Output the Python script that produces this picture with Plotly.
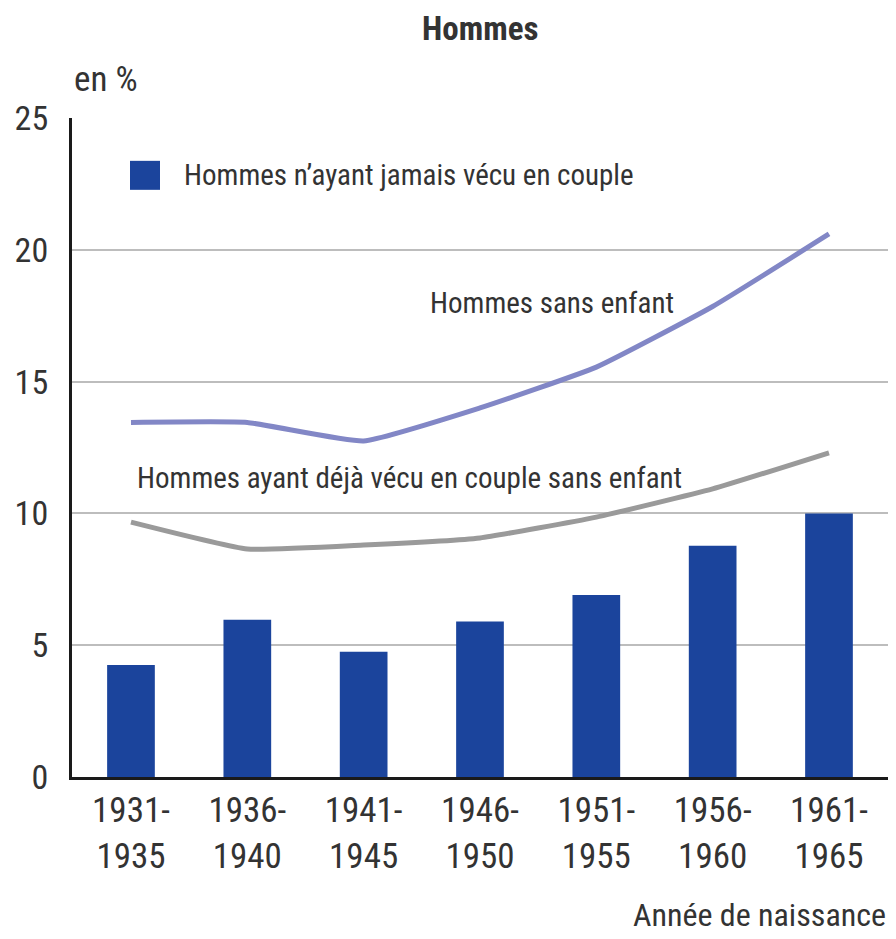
import plotly.graph_objects as go

# Cohorts (année de naissance)
cohorts = ["1931-1935", "1936-1940", "1941-1945", "1946-1950",
           "1951-1955", "1956-1960", "1961-1965"]
tick_labels = ["1931-<br>1935", "1936-<br>1940", "1941-<br>1945", "1946-<br>1950",
               "1951-<br>1955", "1956-<br>1960", "1961-<br>1965"]

# Values in %
jamais_couple = [4.25, 5.97, 4.75, 5.9, 6.9, 8.77, 10.0]
sans_enfant = [13.45, 13.45, 12.75, 14.0, 15.55, 17.85, 20.6]
deja_couple_sans_enfant = [9.67, 8.65, 8.8, 9.07, 9.86, 10.93, 12.3]

y_ticks = [0, 5, 10, 15, 20, 25]

FONT = "Liberation Sans Narrow, Arial Narrow, Roboto Condensed, DejaVu Sans Condensed, sans-serif"
TXT = "#333333"
BLUE = "#1b449c"
PURPLE = "#8287c6"
GREY = "#9a9a9a"

x_idx = list(range(len(cohorts)))

fig = go.Figure()

fig.add_trace(go.Bar(
    x=x_idx, y=jamais_couple,
    marker=dict(color=BLUE, line=dict(width=0)),
    width=0.41,
    name="Hommes n’ayant jamais vécu en couple",
    showlegend=False,
))

fig.add_trace(go.Scatter(
    x=x_idx, y=sans_enfant, mode="lines",
    line=dict(color=PURPLE, width=5, shape="spline", smoothing=0.4),
    showlegend=False,
))

fig.add_trace(go.Scatter(
    x=x_idx, y=deja_couple_sans_enfant, mode="lines",
    line=dict(color=GREY, width=5, shape="spline", smoothing=0.4),
    showlegend=False,
))

# legend swatch + text
fig.add_shape(type="rect", xref="paper", yref="paper",
              x0=0.0704, x1=0.1068, y0=0.891, y1=0.935,
              fillcolor=BLUE, line=dict(width=0))

annotations = [
    dict(text="Hommes n’ayant jamais vécu en couple", x=0.1335, y=0.9135,
         xanchor="left", yanchor="middle", font=dict(size=29, color=TXT, family=FONT)),
    dict(text="Hommes sans enfant", x=0.432, y=0.719,
         xanchor="left", yanchor="middle", font=dict(size=29, color=TXT, family=FONT)),
    dict(text="Hommes ayant déjà vécu en couple sans enfant", x=0.0765, y=0.4537,
         xanchor="left", yanchor="middle", font=dict(size=29, color=TXT, family=FONT)),
    dict(text="<b>Hommes</b>", x=0.495, y=1.136,
         xanchor="center", yanchor="middle", font=dict(size=33, color=TXT, family=FONT)),
    dict(text="en %", x=0.0, y=1.058,
         xanchor="left", yanchor="middle", font=dict(size=35, color=TXT, family=FONT)),
    dict(text="Année de naissance", x=0.99, y=-0.209,
         xanchor="right", yanchor="middle", font=dict(size=32, color=TXT, family=FONT)),
]
for a in annotations:
    a.update(xref="paper", yref="paper", showarrow=False)
fig.update_layout(annotations=annotations)

fig.update_xaxes(
    tickmode="array", tickvals=x_idx, ticktext=tick_labels,
    range=[-0.507, 6.576],
    showline=True, linecolor="#1a1a1a", linewidth=3,
    showgrid=False, zeroline=False, ticks="",
    tickfont=dict(size=35, color=TXT, family=FONT),
)
fig.update_yaxes(
    range=[0, 25], tickvals=y_ticks,
    showline=True, linecolor="#1a1a1a", linewidth=3,
    showgrid=True, gridcolor="#bdbdbd", gridwidth=2,
    zeroline=False, ticks="", ticklabelstandoff=14,
    tickfont=dict(size=34, color=TXT, family=FONT),
)

# page body has an 8px margin, so the figure is a bit smaller than the window
fig.update_layout(
    width=888, height=931,
    margin=dict(l=64, r=0, t=110, b=162),
    plot_bgcolor="white", paper_bgcolor="white",
    font=dict(family=FONT, color=TXT),
    bargap=0.59,
)

fig.write_html("out.html")
